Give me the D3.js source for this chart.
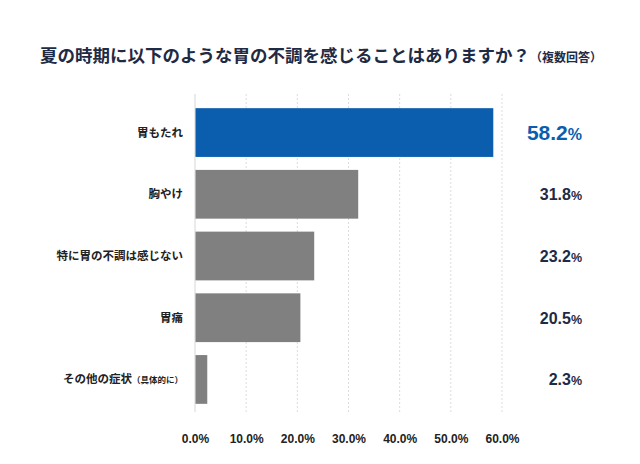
<!DOCTYPE html>
<html>
<head>
<meta charset="utf-8">
<script src="https://cdn.jsdelivr.net/npm/d3@7"></script>
<style>
  body { margin: 0; background: #fff; }
  svg text { font-family: "Noto Sans CJK JP", "Noto Sans", sans-serif; }
  svg text.num { font-family: "Liberation Sans", Arial, sans-serif; }
</style>
</head>
<body>
<div class="chart"></div>
<script>

const FRAME_WIDTH = 640;
const FRAME_HEIGHT = 464;
const MARGINS = {left: 195, right: 138, top: 102, bottom: 54};

// data
const CATEGORIES = ["胃もたれ", "胸やけ", "特に胃の不調は感じない", "胃痛", "その他の症状"];
const CATEGORY_NOTES = ["", "", "", "", "（具体的に）"];
const VALUES = [58.2, 31.8, 23.2, 20.5, 2.3];
const TICKS = [0, 10, 20, 30, 40, 50, 60];

const TITLE = "夏の時期に以下のような胃の不調を感じることはありますか？";
const TITLE_NOTE = "（複数回答）";

const BLUE = "#0a5ead";
const GREY = "#808080";
const NAVY = "#1f2a44";

const PLOT_WIDTH = FRAME_WIDTH - MARGINS.left - MARGINS.right;
const PLOT_HEIGHT = FRAME_HEIGHT - MARGINS.top - MARGINS.bottom;

const FRAME = d3.select(".chart")
    .append("svg")
    .attr("width", FRAME_WIDTH)
    .attr("height", FRAME_HEIGHT);

const X_SCALE = d3.scaleLinear()
    .domain([0, 60])
    .range([0, PLOT_WIDTH]);

const Y_SCALE = d3.scaleBand()
    .domain(CATEGORIES)
    .range([0, PLOT_HEIGHT])
    .paddingInner(0.21)
    .paddingOuter(0.1);

const PLOT = FRAME.append("g")
    .attr("transform", "translate(" + MARGINS.left + "," + MARGINS.top + ")");

// title
const title = FRAME.append("text")
    .attr("x", 321)
    .attr("y", 62)
    .attr("text-anchor", "middle")
    .attr("fill", NAVY)
    .attr("font-weight", "bold");
title.append("tspan").attr("font-size", "17.5px").text(TITLE);
title.append("tspan").attr("font-size", "12px").text(TITLE_NOTE);

// gridlines
PLOT.selectAll(".grid")
    .data(TICKS)
    .enter()
    .append("line")
        .attr("x1", (d) => X_SCALE(d))
        .attr("x2", (d) => X_SCALE(d))
        .attr("y1", -8)
        .attr("y2", PLOT_HEIGHT + 2)
        .attr("stroke", (d) => d === 0 ? "#d6d6d6" : "#dcdcdc")
        .attr("stroke-width", 1)
        .attr("stroke-dasharray", (d) => d === 0 ? null : "2,2");

// bars
PLOT.selectAll(".bar")
    .data(VALUES)
    .enter()
    .append("rect")
        .attr("x", 0.5)
        .attr("y", (d, i) => Y_SCALE(CATEGORIES[i]))
        .attr("width", (d) => X_SCALE(d))
        .attr("height", Y_SCALE.bandwidth())
        .attr("fill", (d, i) => i === 0 ? BLUE : GREY);

// category labels
const labels = PLOT.selectAll(".cat")
    .data(CATEGORIES)
    .enter()
    .append("text")
        .attr("x", -12)
        .attr("y", (d) => Y_SCALE(d) + Y_SCALE.bandwidth() / 2 + 4)
        .attr("text-anchor", "end")
        .attr("font-size", "11.5px")
        .attr("font-weight", "bold")
        .attr("fill", "#222");
labels.append("tspan").text((d) => d);
labels.append("tspan").attr("font-size", "8.5px").text((d, i) => CATEGORY_NOTES[i]);

// value labels
const vals = PLOT.selectAll(".val")
    .data(VALUES)
    .enter()
    .append("text")
        .attr("class", "num")
        .attr("x", PLOT_WIDTH + 80)
        .attr("y", (d, i) => Y_SCALE(CATEGORIES[i]) + Y_SCALE.bandwidth() / 2 + (i === 0 ? 7 : 6))
        .attr("text-anchor", "end")
        .attr("font-weight", "bold")
        .attr("fill", (d, i) => i === 0 ? BLUE : NAVY)
        .attr("font-size", (d, i) => i === 0 ? "21px" : "16px");
vals.append("tspan").text((d) => d.toFixed(1));
vals.append("tspan").attr("font-size", (d, i) => i === 0 ? "16px" : "12.5px").text("%");

// x axis
const X_AXIS = PLOT.append("g")
    .attr("transform", "translate(0," + (PLOT_HEIGHT + 21) + ")")
    .call(d3.axisBottom(X_SCALE).tickValues(TICKS).tickSize(0).tickFormat((d) => d.toFixed(1) + "%"));
X_AXIS.select(".domain").remove();
X_AXIS.selectAll("text")
    .attr("class", "num")
    .attr("font-size", "12px")
    .attr("font-weight", "bold")
    .attr("fill", "#222");

</script>
</body>
</html>
